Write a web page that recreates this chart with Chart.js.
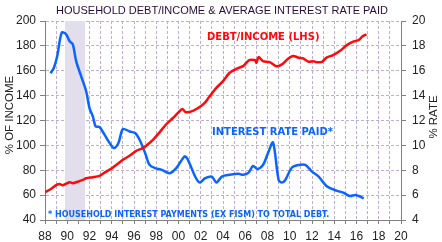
<!DOCTYPE html>
<html>
<head>
<meta charset="utf-8">
<script src="https://cdn.jsdelivr.net/npm/chart.js@4.4.0/dist/chart.umd.min.js"></script>
<style>
html,body{margin:0;padding:0;background:#fff;}
#wrap{width:442px;height:242px;position:relative;}
</style>
</head>
<body>
<div id="wrap"><canvas id="c" width="442" height="242"></canvas></div>
<script>
// Debt / income (% of income, LHS)
const debtYears = [1988.0,1988.5,1989.0,1989.3,1989.6,1990.2,1990.5,1991.0,1991.4,1991.7,1992.3,1992.9,1993.5,1994.0,1994.4,1995.0,1995.6,1996.2,1996.8,1997.2,1997.7,1998.3,1998.9,1999.5,2000.0,2000.35,2000.65,2001.3,2001.9,2002.4,2002.7,2003.4,2004.0,2004.6,2005.2,2005.8,2006.35,2006.9,2007.0,2007.2,2007.6,2008.2,2008.8,2009.3,2009.8,2010.3,2010.8,2011.2,2011.7,2012.1,2012.4,2012.9,2013.3,2013.9,2014.5,2015.1,2015.7,2016.2,2016.5,2016.9];
const debtValues = [62.5,64.7,68.0,69.0,68.0,70.4,69.6,71.0,72.2,73.6,74.4,75.5,78.9,81.5,84.3,88.4,91.6,95.6,97.8,100.5,104.5,110.5,117.0,122.0,126.5,129.3,126.7,127.8,130.8,134.5,138.2,146.2,151.6,158.4,161.6,163.7,168.6,168.6,166.4,171.0,167.7,166.9,163.7,165.1,169.3,171.8,170.5,169.9,167.2,167.7,166.9,167.2,170.5,172.6,175.8,180.4,183.4,184.7,187.4,189.3];

// Average interest rate paid (% rate, RHS)
const rateYears = [1988.5,1988.8,1989.1,1989.5,1989.9,1990.2,1990.5,1990.8,1991.3,1991.7,1992.0,1992.3,1992.55,1992.9,1993.35,1993.8,1994.2,1994.6,1995.0,1995.6,1996.1,1996.5,1997.0,1997.4,1997.9,1998.5,1999.2,1999.8,2000.55,2000.85,2001.5,2001.9,2002.4,2003.0,2003.4,2003.9,2004.6,2005.4,2005.8,2006.3,2006.7,2007.1,2007.6,2008.1,2008.5,2009.0,2009.3,2009.6,2010.2,2010.8,2011.4,2012.0,2012.6,2013.3,2014.2,2014.8,2015.4,2015.9,2016.2,2016.65];
const rateValues = [15.8,16.24,17.18,19.06,18.93,18.39,18.12,16.77,15.43,14.35,13.0,12.33,11.53,11.48,10.86,10.2,9.78,10.19,11.31,11.12,10.99,10.45,9.38,8.43,8.17,8.03,7.76,8.17,9.11,8.84,7.49,7.01,7.36,7.49,7.01,7.49,7.63,7.71,7.63,7.81,8.35,8.11,8.43,9.51,10.24,7.22,7.01,7.22,8.22,8.43,8.43,7.89,7.49,6.74,6.36,6.20,5.93,6.01,5.93,5.75];

// Shaded recession band (years)
const bandStart = 1989.8, bandEnd = 1991.6;

const xMin = 1988, xMax = 2020;
const leftTicks = {min: 40, max: 200, step: 20};
const rightTicks = {min: 4, max: 20, step: 2};

const titleText = 'HOUSEHOLD DEBT/INCOME & AVERAGE INTEREST RATE PAID';
const leftTitle = '% OF INCOME';
const rightTitle = '% RATE';
const debtLabel = 'DEBT/INCOME (LHS)';
const rateLabel = 'INTEREST RATE PAID*';
const footnote = '* HOUSEHOLD INTEREST PAYMENTS (EX FISM) TO TOTAL DEBT.';

const RED = '#ff0a0a';
const BLUE = '#0a64ff';
const GRID = '#bfaed4';
const AXIS = '#808080';
const TXT = '#222222';

const debtData = debtYears.map((x, i) => ({x, y: debtValues[i]}));
const rateData = rateYears.map((x, i) => ({x, y: rateValues[i]}));

const bandPlugin = {
  id: 'band',
  beforeDatasetsDraw(chart) {
    const {ctx, chartArea: a, scales: {x}} = chart;
    const x0 = x.getPixelForValue(bandStart), x1 = x.getPixelForValue(bandEnd);
    ctx.save();
    ctx.fillStyle = '#e3deeb';
    ctx.fillRect(x0, a.top, x1 - x0, a.bottom - a.top);
    ctx.restore();
  }
};

const textPlugin = {
  id: 'texts',
  afterDraw(chart) {
    const {ctx} = chart;
    ctx.save();
    ctx.textBaseline = 'middle';
    ctx.textAlign = 'center';
    ctx.fillStyle = '#2a0c3a';
    ctx.font = '11px "Liberation Sans", Arial, sans-serif';
    ctx.fillText(titleText, 222, 11);
    ctx.fillStyle = TXT;
    ctx.font = '11.5px "Liberation Sans", Arial, sans-serif';
    ctx.save(); ctx.translate(10, 115); ctx.rotate(-Math.PI / 2); ctx.fillText(leftTitle, 0, 0); ctx.restore();
    ctx.save(); ctx.translate(434, 117); ctx.rotate(-Math.PI / 2); ctx.fillText(rightTitle, 0, 0); ctx.restore();
    ctx.textAlign = 'left';
    ctx.font = 'bold 10px "DejaVu Sans", Verdana, sans-serif';
    ctx.fillStyle = RED;
    ctx.fillText(debtLabel, 207, 37);
    ctx.fillStyle = BLUE;
    ctx.fillText(rateLabel, 212, 132);
    ctx.font = 'bold 8px "DejaVu Sans", Verdana, sans-serif';
    ctx.fillText(footnote, 48, 215);
    ctx.restore();
  }
};

const edgeHide = (lo, hi) => c => (c.tick && (c.tick.value === lo || c.tick.value === hi)) ? 'rgba(0,0,0,0)' : GRID;

new Chart(document.getElementById('c'), {
  type: 'line',
  data: {
    datasets: [
      {label: 'Debt/Income', data: debtData, yAxisID: 'y', borderColor: RED, borderWidth: 2.5, pointRadius: 0, tension: 0.25, fill: false},
      {label: 'Interest rate paid', data: rateData, yAxisID: 'y2', borderColor: BLUE, borderWidth: 2.5, pointRadius: 0, tension: 0.3, fill: false}
    ]
  },
  options: {
    responsive: false,
    animation: false,
    devicePixelRatio: 1,
    layout: {padding: {top: 21, left: 0, right: 0, bottom: 0}},
    plugins: {legend: {display: false}, title: {display: false}, tooltip: {enabled: false}},
    scales: {
      x: {
        type: 'linear', min: xMin, max: xMax,
        afterFit(s) { s.height = 22; },
        ticks: {
          stepSize: 1, autoSkip: false, maxRotation: 0, minRotation: 0, padding: 5,
          color: TXT, font: {family: '"Liberation Sans", Arial, sans-serif', size: 12},
          callback: v => (Math.round(v) % 2 === 0) ? String(Math.round(v) % 100).padStart(2, '0') : ''
        },
        grid: {display: true, color: edgeHide(xMin, xMax), lineWidth: 1, tickColor: AXIS, tickLength: 4},
        border: {display: true, color: AXIS, width: 1, dash: [3, 2]}
      },
      y: {
        position: 'left', min: leftTicks.min, max: leftTicks.max,
        afterFit(s) { s.width = 45; },
        ticks: {stepSize: leftTicks.step, padding: 4, color: TXT, font: {family: '"Liberation Sans", Arial, sans-serif', size: 12}},
        grid: {display: true, color: edgeHide(leftTicks.min, -1), lineWidth: 1, tickColor: AXIS, tickLength: 5},
        border: {display: true, color: AXIS, width: 1, dash: [3, 2]}
      },
      y2: {
        position: 'right', min: rightTicks.min, max: rightTicks.max,
        afterFit(s) { s.width = 41; },
        ticks: {stepSize: rightTicks.step, padding: 6, color: TXT, font: {family: '"Liberation Sans", Arial, sans-serif', size: 12}},
        grid: {drawOnChartArea: false, color: AXIS, tickColor: AXIS, tickLength: 5},
        border: {display: true, color: AXIS, width: 1}
      }
    }
  },
  plugins: [bandPlugin, textPlugin]
});
</script>
</body>
</html>
